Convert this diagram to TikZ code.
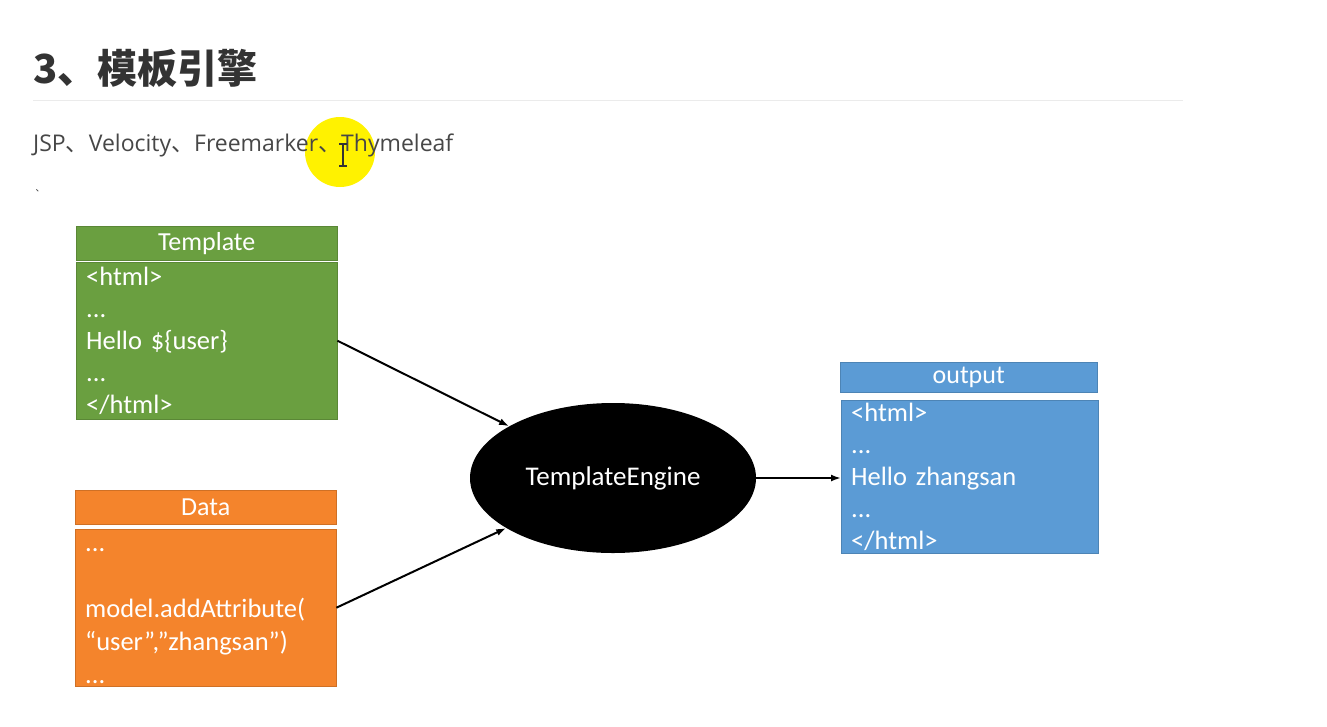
\documentclass[tikz,border=0pt]{standalone}
\usepackage{fontspec}
\setmainfont{Carlito}
\newfontfamily\cjk{Noto Sans CJK SC}
\newfontfamily\opensans{Open Sans}
\usetikzlibrary{shapes.geometric,arrows.meta,positioning}
\definecolor{tplgreen}{HTML}{6A9F40}
\definecolor{dataorange}{HTML}{F4842C}
\definecolor{outblue}{HTML}{5B9BD5}
\definecolor{titlegray}{HTML}{333333}
\definecolor{rulegray}{HTML}{EBEBEB}
\definecolor{cursoryellow}{HTML}{FFF200}
\begin{document}
\begin{tikzpicture}[x=1pt, y=-1pt,
	boxhead/.style={draw=#1!85!black, fill=#1, text=white, anchor=north west,
		minimum width=261pt, minimum height=34pt, inner sep=0pt,
		font=\fontsize{26}{30}\selectfont},
	boxbody/.style={draw=#1!85!black, fill=#1, text=white, anchor=north west,
		text width=241pt, inner xsep=10pt, inner ysep=0pt, align=left,
		font=\fontsize{26.5}{32}\selectfont},
	flow/.style={-{Latex[length=10pt,width=7pt]}, line width=2pt}]
	\useasboundingbox[fill=white] (0,0) rectangle (1327,726);
	%title
	\node[anchor=base west, inner sep=0pt, text=titlegray,
		font=\cjk\bfseries\fontsize{40}{42}\selectfont] (title) at (33,83) {3、模板引擎};
	\draw[rulegray, line width=1pt] (33,100) -- (1183,100);
	%cursor
	\fill[cursoryellow] (340,152) circle (35);
	\node[anchor=base west, inner sep=0pt, text=titlegray!90,
		font=\opensans\fontsize{23}{26}\selectfont] (engines) at (33,151)
		{JSP{\cjk 、}Velocity{\cjk 、}Freemarker{\cjk 、}Thymeleaf};
	\draw[titlegray, line width=1.2pt] (343,144) -- (343,166)
		(339,144) -- (347,144) (339,166) -- (347,166);
	\node[inner sep=0pt, text=titlegray, font=\cjk\fontsize{9}{9}\selectfont] (mark) at (40,191) {、};
	%template
	\node[boxhead=tplgreen] (tplhead) at (76,226) {Template};
	\node[boxbody=tplgreen, minimum height=157pt] (tplbody) at (76,262)
		{<html>\\...\\Hello \$\{user\}\\...\\</html>};
	%data
	\node[boxhead=dataorange] (datahead) at (75,490) {Data};
	\node[boxbody=dataorange, minimum height=157pt, font=\fontsize{26.5}{33}\selectfont] (databody) at (75,529)
		{\rule{0pt}{20pt}...\\ \strut\\ model.addAttribute(\\“user”,”zhangsan”)\\...};
	%engine
	\node[ellipse, fill=black, text=white, minimum width=286pt, minimum height=150pt,
		font=\fontsize{27}{30}\selectfont] (engine) at (613,478) {TemplateEngine};
	%output
	\node[boxhead=outblue, minimum width=257pt, minimum height=30pt] (outhead) at (840,362) {output};
	\node[boxbody=outblue, text width=237pt, minimum height=153pt] (outbody) at (841,400)
		{<html>\\...\\Hello zhangsan\\...\\</html>};
	%arrows
	\draw[flow] (tplbody.east) -- (engine);
	\draw[flow] (databody.east) -- (engine);
	\draw[flow] (engine.east) -- (engine.east -| outbody.west);
\end{tikzpicture}
\end{document}
